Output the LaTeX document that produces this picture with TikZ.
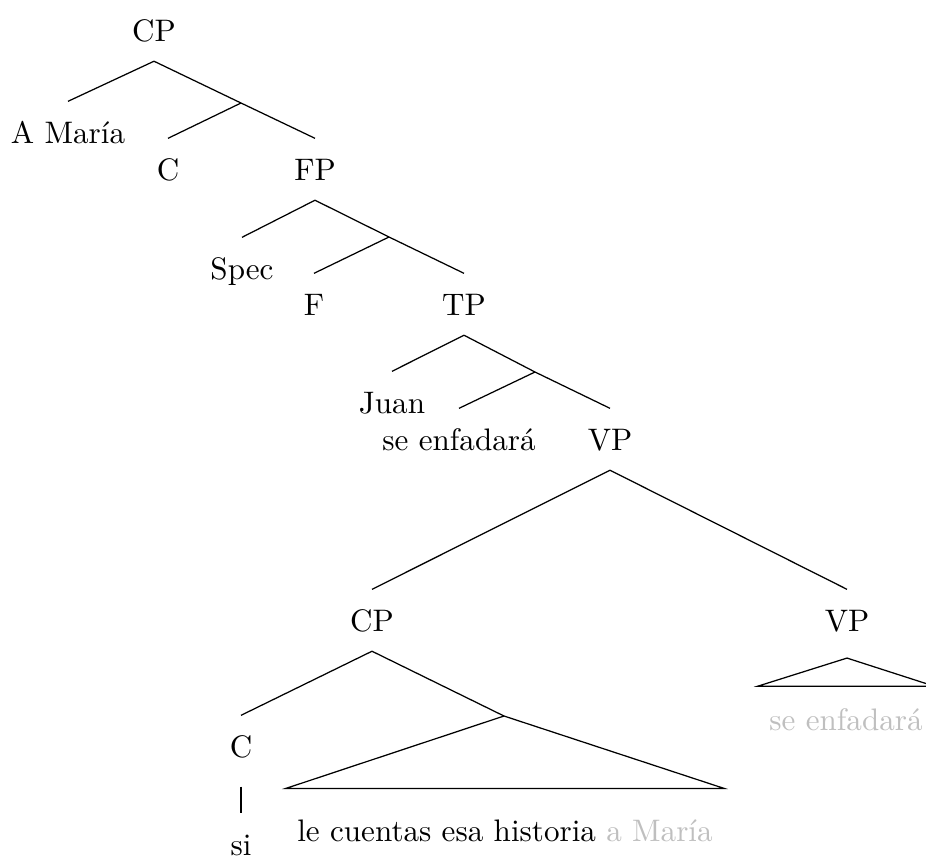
\documentclass[tikz,border=0pt]{standalone}
\usepackage{fontspec}
\begin{document}
\begin{tikzpicture}[
                x=0.3215pt, y=-0.3215pt,
                every node/.style={anchor=base, text height=6.9pt, text depth=0pt, inner xsep=3.5pt, inner ysep=6.3pt},
                trace/.style={text=gray!50}
            ]
                \useasboundingbox (0,0) rectangle (926,857);

                % Top CP
                \node (cp0) at (154,41) {CP};
                \node (am) at (68,143) {A María};
                \coordinate (i1) at (241,103);
                \node (c1) at (168,180) {C};
                \node (fp) at (315,180) {FP};

                % FP
                \node (spec) at (242,279) {Spec};
                \coordinate (i2) at (389,237);
                \node (f) at (314,315) {F};
                \node (tp) at (464,315) {TP};

                % TP
                \node (juan) at (392,413) {Juan};
                \coordinate (i3) at (535,372);
                \node (seenf) at (459,450) {se enfadará};
                \node (vp1) at (610,450) {VP};

                % VP
                \node (cp2) at (372,631) {CP};
                \node[text depth=2.2pt] (vp2) at (847,631) {VP};

                % lower CP
                \node (c2) at (241,757) {C};
                \node (si) at (241,855) {si};
                \coordinate (i4) at (504,716);
                \node[inner ysep=9.8pt] (lc) at (505,841) {le cuentas esa historia \textcolor{gray!50}{a María}};

                % lower VP
                \node[trace, inner ysep=7pt] (se2) at (846,730) {se enfadará};

                % Branches
                \draw (cp0.south) -- (am.north);
                \draw (cp0.south) -- (i1) -- (fp.north);
                \draw (i1) -- (c1.north);

                \draw (fp.south) -- (spec.north);
                \draw (fp.south) -- (i2) -- (tp.north);
                \draw (i2) -- (f.north);

                \draw (tp.south) -- (juan.north);
                \draw (tp.south) -- (i3) -- (vp1.north);
                \draw (i3) -- (seenf.north);

                \draw (vp1.south) -- (cp2.north);
                \draw (vp1.south) -- (vp2.north);

                \draw (cp2.south) -- (c2.north);
                \draw (cp2.south) -- (i4);
                \draw[shorten <=3pt] (c2.south) -- (si.north);

                % Roofs
                \draw (i4) -- (lc.north west) -- (lc.north east) -- cycle;
                \draw (vp2.south) -- (se2.north west) -- (se2.north east) -- cycle;
            \end{tikzpicture}
\end{document}
